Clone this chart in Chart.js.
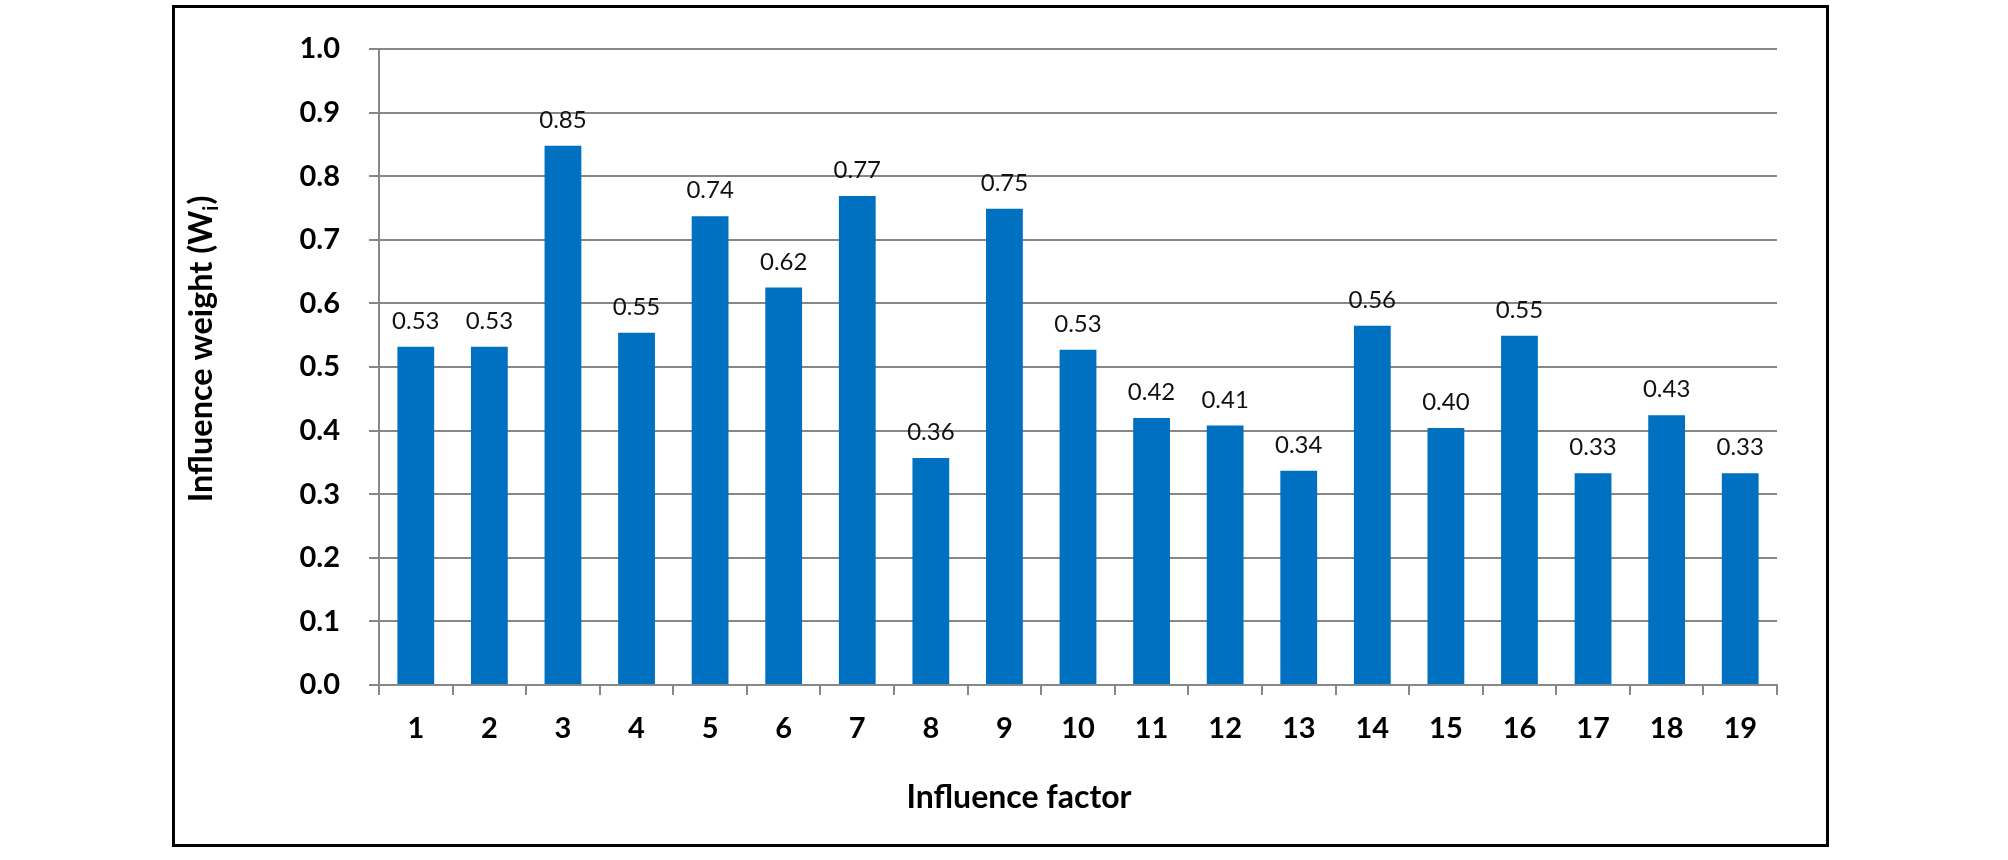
<!DOCTYPE html>
<html>
<head>
<meta charset="utf-8">
<script src="https://cdn.jsdelivr.net/npm/chart.js@4.4.1/dist/chart.umd.min.js"></script>
<style>
  html, body { margin: 0; padding: 0; background: #ffffff; }
  #wrap { width: 2008px; height: 860px; position: relative; }
</style>
</head>
<body>
<div id="wrap"><canvas id="c" width="2008" height="860"></canvas></div>
<script>
// ---- data ----
const categories = ['1','2','3','4','5','6','7','8','9','10','11','12','13','14','15','16','17','18','19'];
const weights = [0.532, 0.532, 0.848, 0.554, 0.737, 0.625, 0.769, 0.357, 0.749, 0.527,
                 0.420, 0.408, 0.337, 0.565, 0.404, 0.549, 0.333, 0.424, 0.333];
const valueLabels = ['0.53','0.53','0.85','0.55','0.74','0.62','0.77','0.36','0.75','0.53',
                     '0.42','0.41','0.34','0.56','0.40','0.55','0.33','0.43','0.33'];
const yTickLabels = ['0.0','0.1','0.2','0.3','0.4','0.5','0.6','0.7','0.8','0.9','1.0'];
const xTitle = 'Influence factor';
const yTitleMain = 'Influence weight (W';
const yTitleSub = 'i';
const yTitleEnd = ')';

const FONT = 'Lato, "Open Sans", "Liberation Sans", sans-serif';
const GRID = '#878787';

// value labels above bars
const valueLabelPlugin = {
  id: 'valueLabels',
  afterDatasetsDraw(chart) {
    const ctx = chart.ctx;
    const meta = chart.getDatasetMeta(0);
    ctx.save();
    ctx.font = '24px ' + FONT;
    ctx.fillStyle = '#111';
    ctx.textAlign = 'center';
    ctx.textBaseline = 'alphabetic';
    meta.data.forEach((el, i) => {
      ctx.fillText(valueLabels[i], el.x, el.y - 18);
    });
    ctx.restore();
  }
};

// frame and axis titles (y title has a subscript)
const framePlugin = {
  id: 'frameTitles',
  afterDraw(chart) {
    const ctx = chart.ctx;
    const ca = chart.chartArea;
    ctx.save();
    // outer frame
    ctx.strokeStyle = '#000';
    ctx.lineWidth = 3;
    ctx.strokeRect(173.5, 6.5, 1654, 839);

    // x title
    ctx.fillStyle = '#000';
    ctx.font = 'bold 32px ' + FONT;
    ctx.textAlign = 'center';
    ctx.textBaseline = 'alphabetic';
    ctx.fillText(xTitle, ca.left + 640, 808);

    // y title rotated
    ctx.translate(212, ca.top + 300);
    ctx.rotate(-Math.PI / 2);
    const mainFont = 'bold 32.5px ' + FONT;
    const subFont = 'bold 20px ' + FONT;
    ctx.font = mainFont;
    const w1 = ctx.measureText(yTitleMain).width;
    const w3 = ctx.measureText(yTitleEnd).width;
    ctx.font = subFont;
    const w2 = ctx.measureText(yTitleSub).width;
    const total = w1 + w2 + w3 + 1;
    let x = -total / 2;
    ctx.textAlign = 'left';
    ctx.font = mainFont;
    ctx.fillText(yTitleMain, x, 0);
    x += w1;
    ctx.font = subFont;
    ctx.fillText(yTitleSub, x, 6);
    x += w2 + 1;
    ctx.font = mainFont;
    ctx.fillText(yTitleEnd, x, 0);
    ctx.restore();
  }
};

new Chart(document.getElementById('c'), {
  type: 'bar',
  data: {
    labels: categories,
    datasets: [{
      data: weights,
      backgroundColor: '#0070C0',
      borderWidth: 0,
      barPercentage: 0.5,
      categoryPercentage: 1.0
    }]
  },
  options: {
    responsive: false,
    devicePixelRatio: 1,
    animation: false,
    events: [],
    layout: { padding: { left: 174, right: 231, top: 49, bottom: 0 } },
    plugins: {
      legend: { display: false },
      tooltip: { enabled: false },
      title: { display: false }
    },
    scales: {
      x: {
        grid: {
          display: true,
          drawOnChartArea: false,
          drawTicks: true,
          tickLength: 10,
          color: GRID,
          lineWidth: 2,
          offset: true
        },
        border: { display: true, color: GRID, width: 2 },
        ticks: {
          color: '#000',
          font: { family: FONT, size: 29, weight: 'bold' },
          padding: 16,
          maxRotation: 0,
          autoSkip: false
        },
        afterFit(scale) { scale.height = 175; }
      },
      y: {
        min: 0,
        max: 1,
        grid: {
          color: GRID,
          lineWidth: 2,
          drawTicks: true,
          tickLength: 10
        },
        border: { display: true, color: GRID, width: 2 },
        ticks: {
          stepSize: 0.1,
          color: '#000',
          font: { family: FONT, size: 29, weight: 'bold' },
          padding: 29,
          callback: (v) => yTickLabels[Math.round(v * 10)]
        },
        afterFit(scale) { scale.width = 205; }
      }
    }
  },
  plugins: [valueLabelPlugin, framePlugin]
});
</script>
</body>
</html>
